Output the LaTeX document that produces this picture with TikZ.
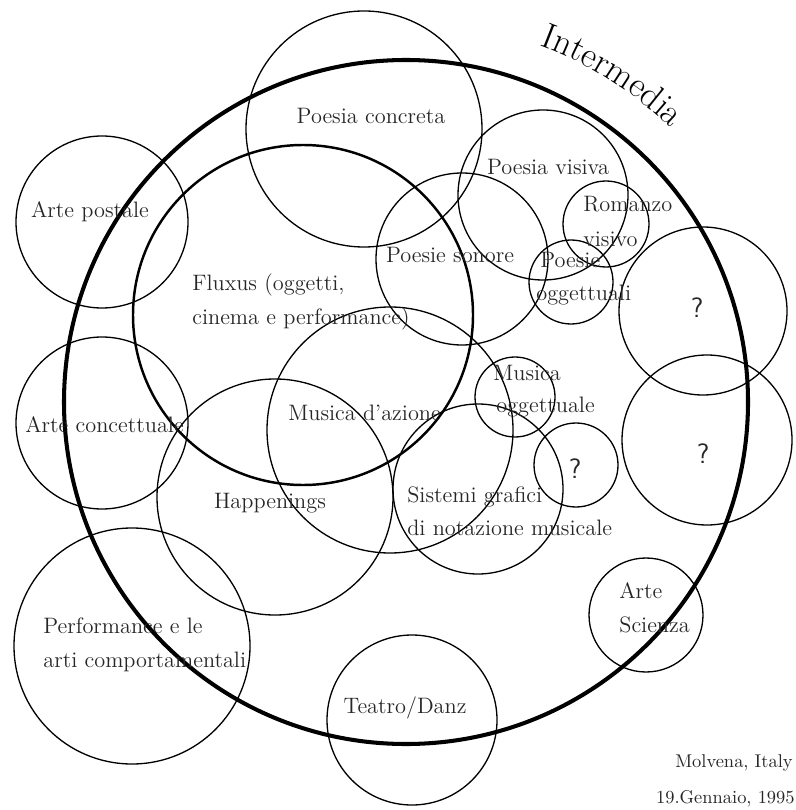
\documentclass[tikz,border=0pt]{standalone}
\usetikzlibrary{decorations.text}
\tikzset{
  ring/.style={line width=0.75pt},
  fluxring/.style={line width=1.4pt},
  outerring/.style={line width=2.3pt},
  lbl/.style={inner sep=0pt, text=black!85, font=\fontsize{12.7}{15}\selectfont},
  qmark/.style={inner sep=0pt, text=black!85, font=\sffamily\fontsize{16}{18}\selectfont},
}

\begin{document}
\begin{tikzpicture}[x=0.02cm, y=-0.02cm]
		\useasboundingbox (0,0) rectangle (795,810);
		%%%%% START %%%%%
		
		\draw[outerring] (406,402) circle (342);
		\draw[fluxring] (303,315) circle (170);
		
		\draw[ring] (364,129) circle (118);
		\draw[ring] (102,222) circle (86);
		\draw[ring] (102,423) circle (86);
		\draw[ring] (132,646) circle (118);
		\draw[ring] (275,497) circle (118);
		\draw[ring] (390,430) circle (123);
		\draw[ring] (478,489) circle (85);
		\draw[ring] (515,397) circle (40);
		\draw[ring] (576,465) circle (42);
		\draw[ring] (707,440) circle (85);
		\draw[ring] (703,311) circle (84);
		\draw[ring] (543,195) circle (85);
		\draw[ring] (462,259) circle (86);
		\draw[ring] (606,224) circle (43);
		\draw[ring] (571,282) circle (42);
		\draw[ring] (412,720) circle (85);
		\draw[ring] (646,615) circle (57);
		
		\path[decorate, decoration={text along path,
			text={|\fontsize{20.5}{22}\selectfont|Intermedia}}]
			(406,402) ++(-69.5:381) arc[start angle=-69.5, end angle=-35, radius=381];
		
		\node[lbl, anchor=base] (concreta) at (371,124) {Poesia concreta};
		\node[lbl, anchor=base] (postale) at (90,218) {Arte postale};
		\node[lbl, anchor=base west] (fluxA) at (192,291) {Fluxus (oggetti,};
		\node[lbl, anchor=base west] (fluxB) at (192,325) {cinema e performance)};
		\node[lbl, anchor=base] (visiva) at (548,175) {Poesia visiva};
		\node[lbl, anchor=base west] (romanzoA) at (583,212) {Romanzo};
		\node[lbl, anchor=base west] (romanzoB) at (583,247) {visivo};
		\node[lbl, anchor=base] (sonore) at (450,263) {Poesie sonore};
		\node[lbl, anchor=base west] (oggettA) at (540,268) {Poesie};
		\node[lbl, anchor=base west] (oggettB) at (536,301) {oggettuali};
		\node[lbl, anchor=base west] (musicaA) at (493,380) {Musica};
		\node[lbl, anchor=base west] (musicaB) at (496,412) {oggettuale};
		\node[lbl, anchor=base west] (azione) at (288,420) {Musica d'azione};
		\node[lbl, anchor=base west] (concettuale) at (25,432) {Arte concettuale};
		\node[lbl, anchor=base] (happenings) at (270,508) {Happenings};
		\node[lbl, anchor=base west] (sistemiA) at (407,502) {Sistemi grafici};
		\node[lbl, anchor=base west] (sistemiB) at (407,535) {di notazione musicale};
		\node[lbl, anchor=base west] (performA) at (43,633) {Performance e le};
		\node[lbl, anchor=base west] (performB) at (43,667) {arti comportamentali};
		\node[lbl, anchor=base] (teatro) at (405,713) {Teatro/Danz};
		\node[lbl, anchor=base west] (scienzaA) at (619,598) {Arte};
		\node[lbl, anchor=base west] (scienzaB) at (619,632) {Scienza};
		
		\node[qmark, anchor=base] (qA) at (697,317) {?};
		\node[qmark, anchor=base] (qB) at (703,463) {?};
		\node[qmark, anchor=base] (qC) at (575,478) {?};
		
		\node[lbl, anchor=base east, font=\fontsize{10.5}{12}\selectfont] (place) at (793,767) {Molvena, Italy};
		\node[lbl, anchor=base east, font=\fontsize{10.5}{12}\selectfont] (date) at (795,803) {19.Gennaio, 1995};
		
		%%%%% END %%%%%
	\end{tikzpicture}
\end{document}
